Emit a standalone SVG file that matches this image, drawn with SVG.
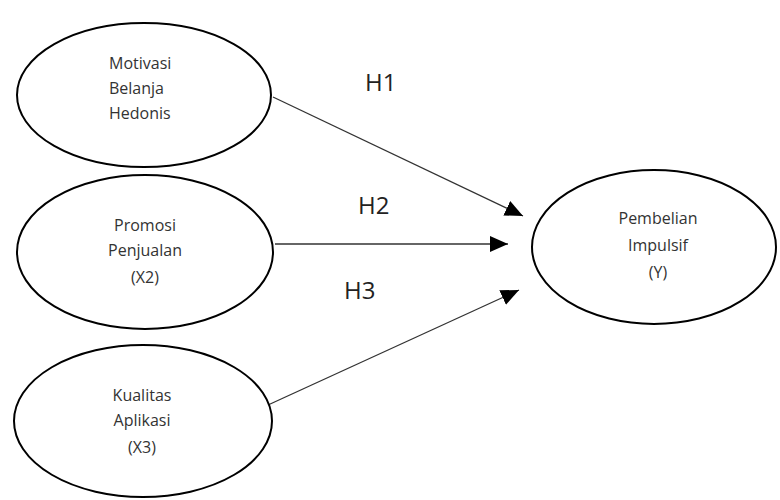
<svg xmlns="http://www.w3.org/2000/svg" width="780" height="500" viewBox="0 0 780 500">
  <style>
    .node ellipse { fill: #ffffff; stroke: #000000; stroke-width: 2; }
    .node text { font-family: "Open Sans", "DejaVu Sans", sans-serif; font-size: 16px; fill: #333333; text-anchor: middle; }
    .edge { stroke: #333333; stroke-width: 1.3; fill: none; marker-end: url(#head); }
    .label { font-family: "Open Sans", "DejaVu Sans", sans-serif; font-size: 24px; fill: #222222; }
  </style>
  <defs>
    <marker id="head" markerUnits="userSpaceOnUse" markerWidth="18" markerHeight="16" viewBox="0 0 18 16" refX="18" refY="8" orient="auto">
      <path d="M0,0 L18,8 L0,16 Z" fill="#000000"/>
    </marker>
  </defs>
  <rect width="780" height="500" fill="#ffffff"/>

  <g id="connectors">
    <line class="edge" x1="273" y1="97" x2="523" y2="216"/>
    <line class="edge" x1="275" y1="244" x2="508" y2="244"/>
    <line class="edge" x1="268" y1="405" x2="519" y2="290"/>
  </g>

  <g id="labels">
    <text class="label" x="365" y="91">H1</text>
    <text class="label" x="358" y="214">H2</text>
    <text class="label" x="344" y="299">H3</text>
  </g>

  <g id="motivasi" class="node">
    <ellipse cx="144" cy="95" rx="127" ry="72"/>
    <text x="109" y="69" style="text-anchor:start">Motivasi</text>
    <text x="109" y="94" style="text-anchor:start">Belanja</text>
    <text x="109" y="119" style="text-anchor:start">Hedonis</text>
  </g>

  <g id="promosi" class="node">
    <ellipse cx="145" cy="252" rx="128" ry="77"/>
    <text x="145" y="231">Promosi</text>
    <text x="145" y="256">Penjualan</text>
    <text x="145" y="283">(X2)</text>
  </g>

  <g id="kualitas" class="node">
    <ellipse cx="143" cy="421" rx="129" ry="76"/>
    <text x="142" y="401">Kualitas</text>
    <text x="142" y="426">Aplikasi</text>
    <text x="142" y="453">(X3)</text>
  </g>

  <g id="pembelian" class="node">
    <ellipse cx="654" cy="247" rx="122" ry="77"/>
    <text x="658" y="224">Pembelian</text>
    <text x="658" y="251">Impulsif</text>
    <text x="658" y="278">(Y)</text>
  </g>
</svg>
